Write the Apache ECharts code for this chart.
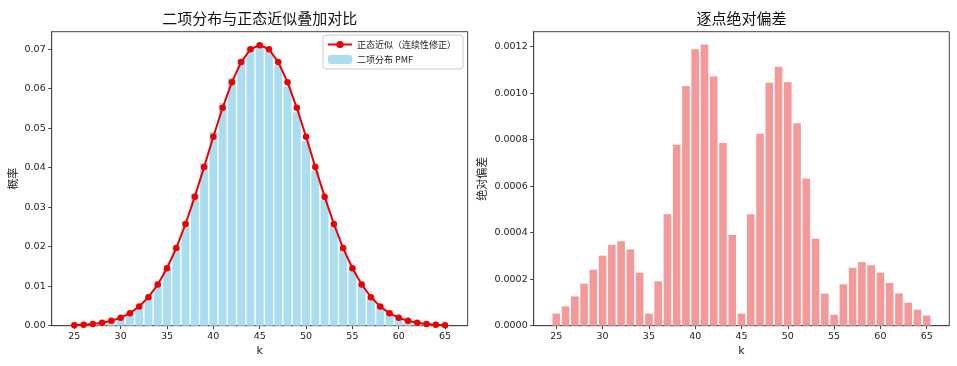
<!DOCTYPE html>
<html>
<head>
<meta charset="utf-8">
<script src="https://cdn.jsdelivr.net/npm/echarts@6/dist/echarts.min.js"></script>
<style>
  html, body { margin: 0; padding: 0; background: #fff; }
  #chart { width: 957px; height: 366px; }
</style>
</head>
<body>
<div id="chart"></div>
<script>
const kValues = [25, 26, 27, 28, 29, 30, 31, 32, 33, 34, 35, 36, 37, 38, 39, 40, 41, 42, 43, 44, 45,
  46, 47, 48, 49, 50, 51, 52, 53, 54, 55, 56, 57, 58, 59, 60, 61, 62, 63, 64, 65];

const binomPmf = [0.000072, 0.000148, 0.000289, 0.000543, 0.000981, 0.001697, 0.002819, 0.004497,
  0.006902, 0.010192, 0.014488, 0.019841, 0.026219, 0.033438, 0.041171, 0.048989, 0.056349,
  0.062691, 0.067496, 0.07035, 0.070948, 0.069481, 0.065885, 0.060576, 0.054027, 0.046753,
  0.03927, 0.032027, 0.025366, 0.019512, 0.014587, 0.010598, 0.007479, 0.005134, 0.003427,
  0.002226, 0.001406, 0.000863, 0.000514, 0.0003, 0.000168];

const normalApprox = [0.000124, 0.000231, 0.000415, 0.000724, 0.001222, 0.001998, 0.003167, 0.00486,
  0.00723, 0.01042, 0.01454, 0.01965, 0.02574, 0.03266, 0.04014, 0.0478, 0.05514, 0.06162,
  0.06671, 0.06996, 0.0710, 0.06996, 0.06671, 0.06162, 0.05514, 0.0478, 0.04014, 0.03266,
  0.02574, 0.01965, 0.01454, 0.01042, 0.00723, 0.00486, 0.003167, 0.001998, 0.001222,
  0.000724, 0.000415, 0.000231, 0.000124];

const absDiff = [0.000052, 0.000083, 0.000126, 0.000181, 0.000241, 0.000301, 0.000348, 0.000363,
  0.000328, 0.000228, 0.000052, 0.000191, 0.000479, 0.000778, 0.001031, 0.001189, 0.001209,
  0.001071, 0.000786, 0.00039, 0.000052, 0.000479, 0.000825, 0.001044, 0.001113, 0.001047,
  0.00087, 0.000633, 0.000374, 0.000138, 0.000047, 0.000178, 0.000249, 0.000274, 0.00026,
  0.000228, 0.000184, 0.000139, 0.000099, 0.000069, 0.000044];

const xTicks = [25, 30, 35, 40, 45, 50, 55, 60, 65];
const yTicksLeft = [0, 0.01, 0.02, 0.03, 0.04, 0.05, 0.06, 0.07];
const yTicksRight = [0, 0.0002, 0.0004, 0.0006, 0.0008, 0.001, 0.0012];

const FONT = "DejaVu Sans, Noto Sans CJK SC, sans-serif";
const CJK = "Noto Sans CJK SC, sans-serif";
const SPINE = "#444";
const TEXT = "#222";

const pairs = (ys) => kValues.map((k, i) => [k, ys[i]]);

function xAxisFor(gridIndex) {
  return {
    type: "value", gridIndex, min: 22.56, max: 67.44,
    name: "k", nameLocation: "middle", nameGap: 18,
    nameTextStyle: { fontFamily: FONT, fontSize: 11, color: TEXT },
    axisLine: { show: true, onZero: false, lineStyle: { color: SPINE } },
    axisTick: { show: true, length: 3.5, customValues: xTicks, lineStyle: { color: SPINE } },
    axisLabel: { customValues: xTicks, margin: 6, fontFamily: FONT, fontSize: 9.5, color: TEXT },
    splitLine: { show: false }
  };
}

function yAxisFor(gridIndex, max, ticks, digits, name, gap) {
  return {
    type: "value", gridIndex, min: 0, max,
    name, nameLocation: "middle", nameGap: gap,
    nameTextStyle: { fontFamily: CJK, fontSize: 11, color: TEXT },
    axisLine: { show: true, lineStyle: { color: SPINE } },
    axisTick: { show: true, length: 3.5, customValues: ticks, lineStyle: { color: SPINE } },
    axisLabel: { customValues: ticks, margin: 6, fontFamily: FONT, fontSize: 9.5, color: TEXT,
      formatter: (v) => v.toFixed(digits) },
    splitLine: { show: false }
  };
}

const chart = echarts.init(document.getElementById("chart"), null, { renderer: "canvas" });

chart.setOption({
  animation: false,
  backgroundColor: "#fff",
  title: [
    { text: "二项分布与正态近似叠加对比", left: 259.7, top: 11, padding: 0, textAlign: "center",
      textStyle: { fontFamily: CJK, fontSize: 15, fontWeight: "normal", color: "#111" } },
    { text: "逐点绝对偏差", left: 741.5, top: 11, padding: 0, textAlign: "center",
      textStyle: { fontFamily: CJK, fontSize: 15, fontWeight: "normal", color: "#111" } }
  ],
  legend: {
    data: ["正态近似（连续性修正）", "二项分布 PMF"],
    orient: "vertical", left: 323, top: 35,
    padding: [5, 7, 5, 4], itemGap: 6, itemWidth: 24, itemHeight: 9,
    borderColor: "#ccc", borderWidth: 1, borderRadius: 3,
    backgroundColor: "rgba(255,255,255,0.8)",
    textStyle: { fontFamily: CJK, fontSize: 9, color: TEXT }
  },
  grid: [
    { left: 51.7, top: 31.7, width: 416, height: 294, show: true, borderColor: SPINE, borderWidth: 1 },
    { left: 533.7, top: 31.7, width: 415.6, height: 294, show: true, borderColor: SPINE, borderWidth: 1 }
  ],
  xAxis: [xAxisFor(0), xAxisFor(1)],
  yAxis: [
    yAxisFor(0, 0.0744, yTicksLeft, 2, "概率", 33),
    yAxisFor(1, 0.001264, yTicksRight, 4, "绝对偏差", 46)
  ],
  series: [
    {
      name: "二项分布 PMF", type: "bar", xAxisIndex: 0, yAxisIndex: 0,
      data: pairs(binomPmf), barWidth: 7.9,
      itemStyle: { color: "#abddf1" }, z: 1
    },
    {
      name: "正态近似（连续性修正）", type: "line", xAxisIndex: 0, yAxisIndex: 0,
      data: pairs(normalApprox), symbol: "circle", symbolSize: 6.5,
      lineStyle: { color: "#ee0000", width: 2 }, itemStyle: { color: "#ee0000" }, z: 3
    },
    {
      name: "绝对偏差", type: "bar", xAxisIndex: 1, yAxisIndex: 1,
      data: pairs(absDiff), barWidth: 7.6,
      itemStyle: { color: "#f39999" }
    }
  ]
});
</script>
</body>
</html>
